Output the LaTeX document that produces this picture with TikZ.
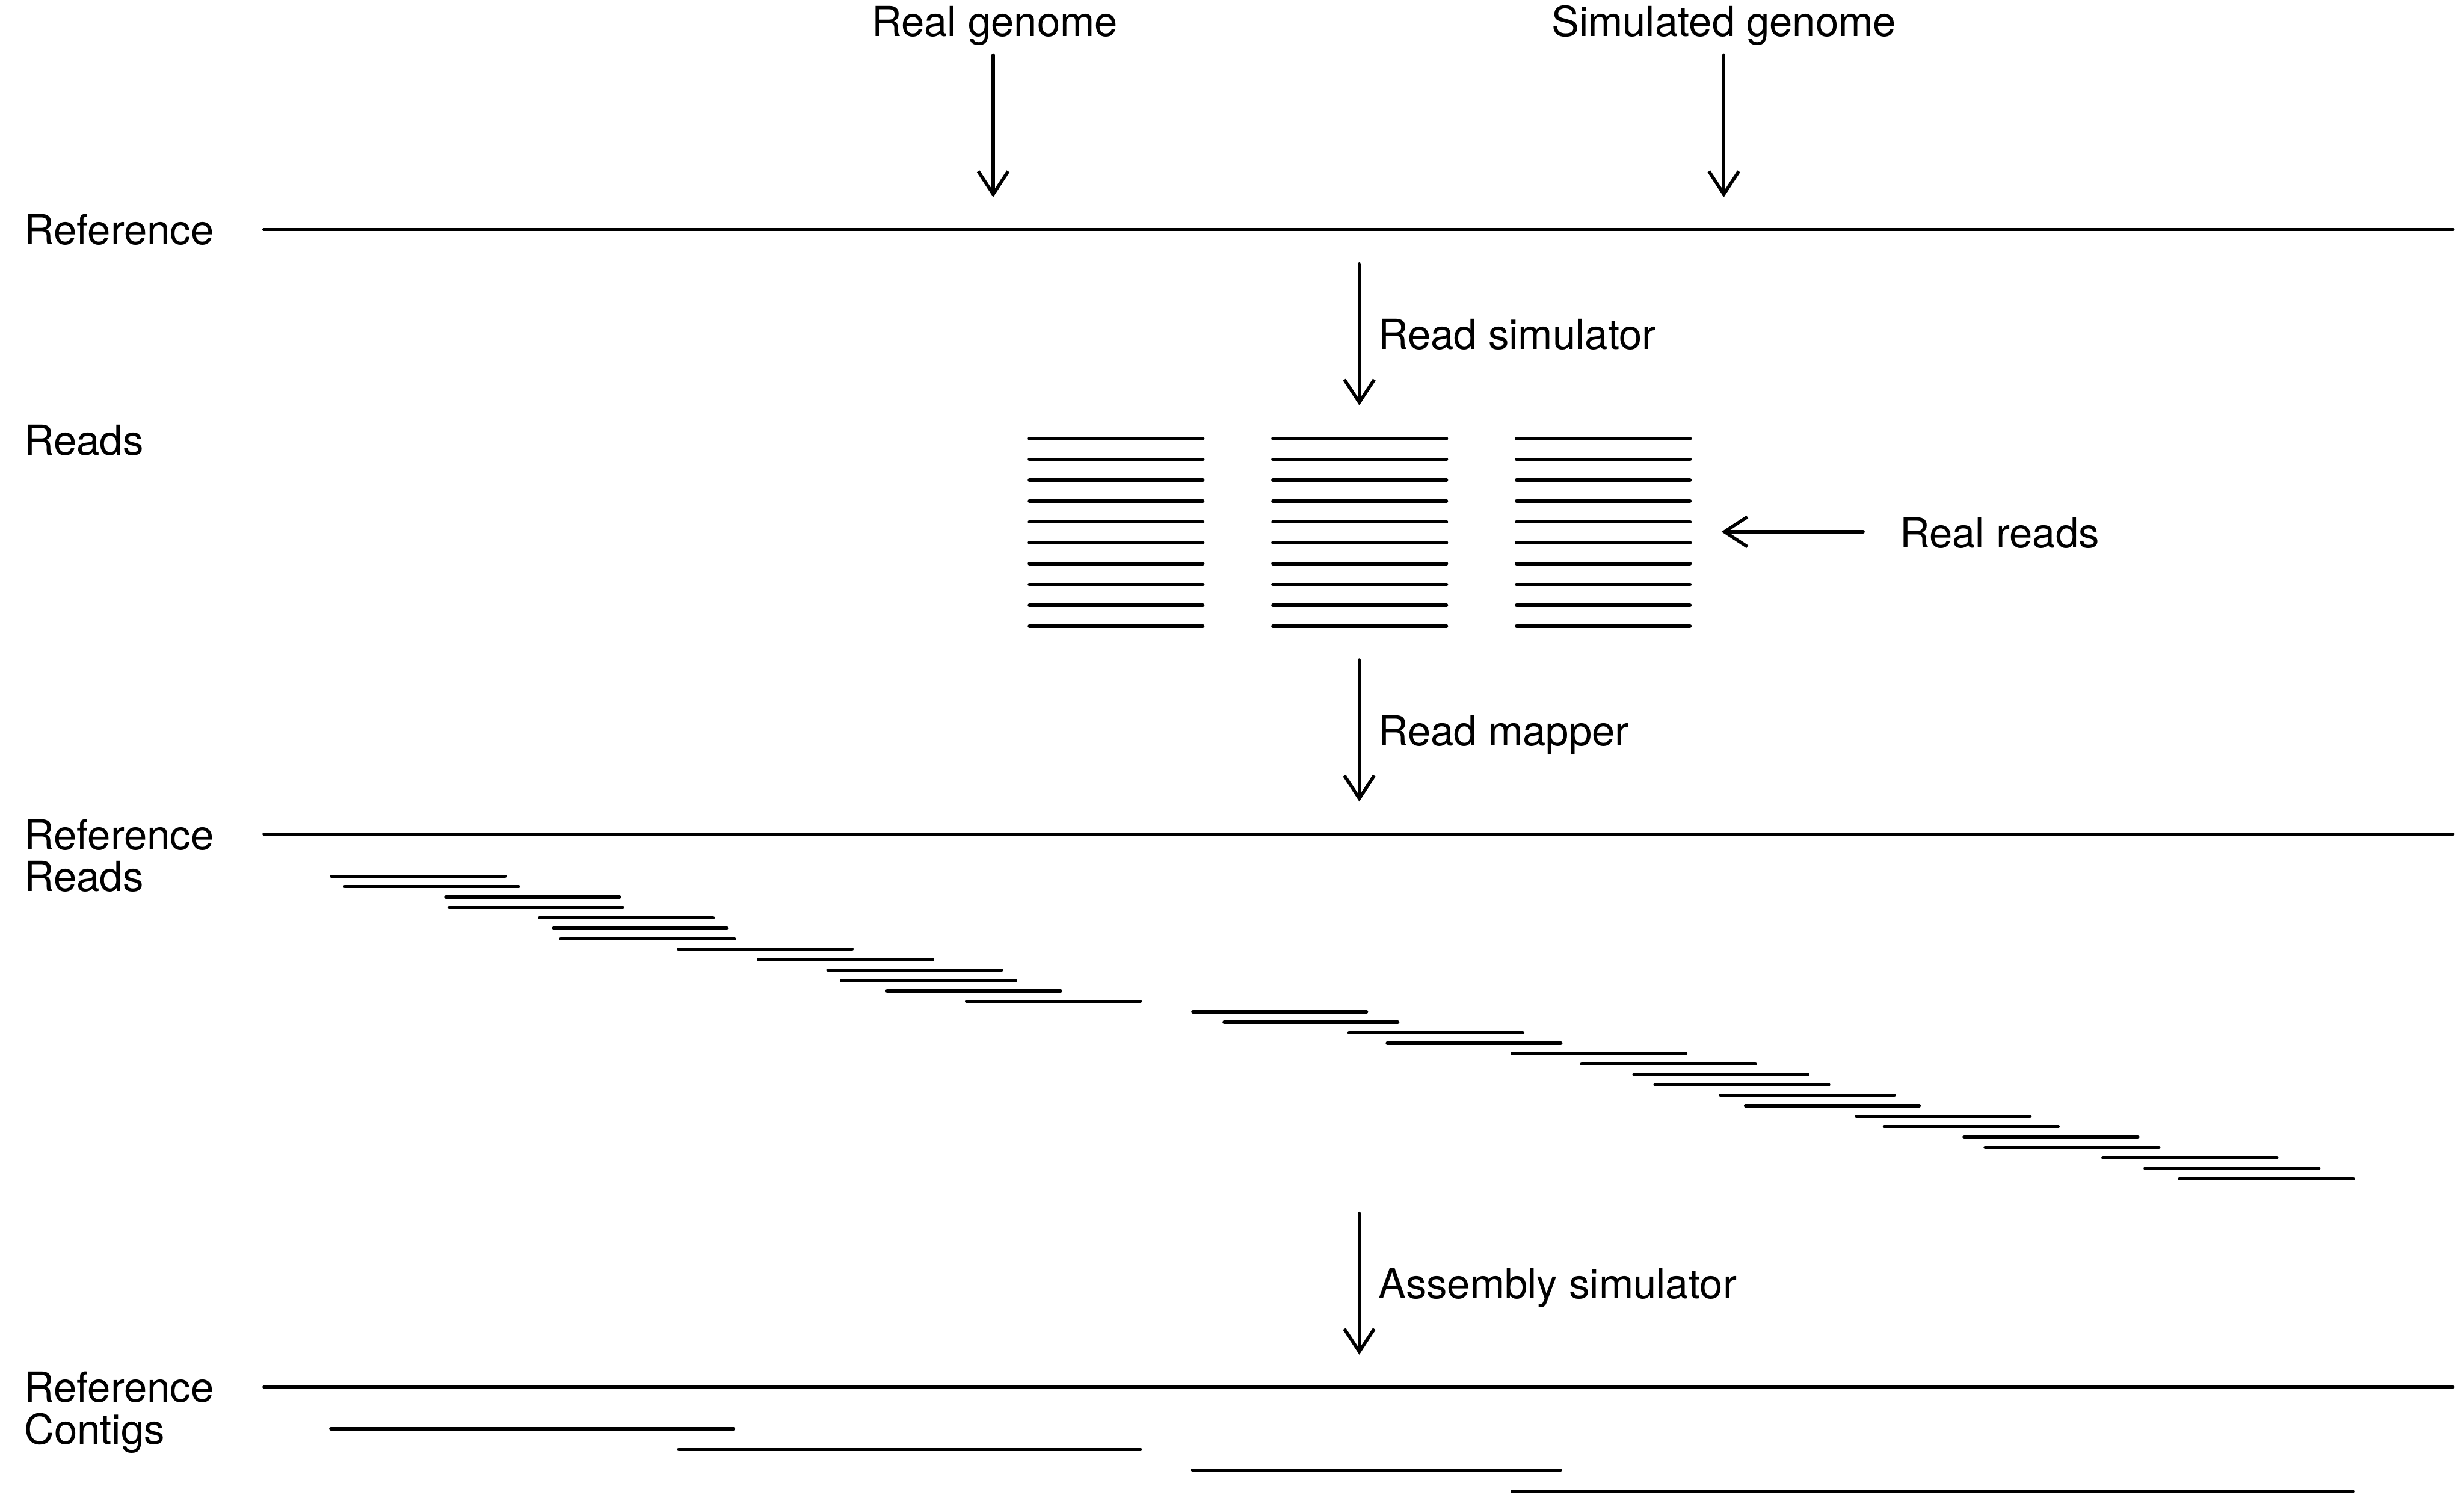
\documentclass[tikz,border=0pt]{standalone}
\usepackage{fontspec}
\setmainfont{TeX Gyre Heros}
\usetikzlibrary{arrows.meta}
\begin{document}
\begin{tikzpicture}[x=0.1mm, y=-0.1mm, font=\fontsize{7.5}{7.5}\selectfont, line width=0.6pt, line join=round, line cap=round, >={Straight Barb[length=1.45mm,width=1.9mm]}, lbl/.style={anchor=base west, inner sep=0pt}, hd/.style={anchor=base, inner sep=0pt}]
			\useasboundingbox (0,0) rectangle (1568,955);
			% genomes at the top
			\node[hd] (realg) at (633,23) {Real genome};
			\node[hd] (simg) at (1097,23) {Simulated genome};
			\foreach \x/\n in {632/rg, 1097/sg}{\coordinate (\n-a) at (\x,35); \coordinate (\n-b) at (\x,125.5); \draw[->] (\n-a)--(\n-b);}
			% reference lines
			\foreach \y/\n in {146/ref1, 530.8/ref2, 882.6/ref3}{\coordinate (\n-l) at (168,\y); \coordinate (\n-r) at (1561,\y); \draw (\n-l)--(\n-r);}
			\node[lbl] (lref1) at (14.4,155.8) {Reference};
			\node[lbl] (lreads1) at (14.4,289.5) {Reads};
			\node[lbl] (lref2) at (14.4,540.7) {Reference};
			\node[lbl] (lreads2) at (14.4,567) {Reads};
			\node[lbl] (lref3) at (14.4,892.3) {Reference};
			\node[lbl] (lcontigs) at (14.4,919) {Contigs};
			% steps
			\foreach \y/\t/\n in {168/Read simulator/sim, 420/Read mapper/map, 772/Assembly simulator/asm}{\coordinate (\n-a) at (865,\y); \coordinate (\n-b) at (865,\y+90); \draw[->] (\n-a)--(\n-b); \node[lbl] (\n) at (876,\y+54.4) {\t};}
			% simulated reads
			\foreach \c in {655,810,965}{\foreach \k in {0,...,9}{\draw (\c,{279+13.27*\k})--++(110.5,0);}}
			\coordinate (rr-a) at (1185.6,338.4); \coordinate (rr-b) at (1095.5,338.4);
			\draw[->] (rr-a)--(rr-b);
			\node[lbl] (realreads) at (1208,348.4) {Real reads};
			% mapped reads
			\foreach \s [count=\k from 0] in {210.9,219.4,283.7,285.8,343.3,352.2,356.8,431.7,482.8,526.8,535.6,564.4,615.1,759.1,779.0,858.5,882.8,962.3,1006.5,1039.8,1053.2,1094.9,1110.8,1181.3,1199.2,1249.9,1263.3,1338.3,1365.1,1387.0}{\draw (\s,{557.5+6.64*\k})--++(110.5,0);}
			% contigs
			\foreach \a/\b/\y in {210.5/466.8/909.2, 431.9/725.7/922.3, 758.9/993.1/935.4, 962.4/1497.2/949.0}{\draw (\a,\y)--(\b,\y);}
		\end{tikzpicture}
\end{document}
